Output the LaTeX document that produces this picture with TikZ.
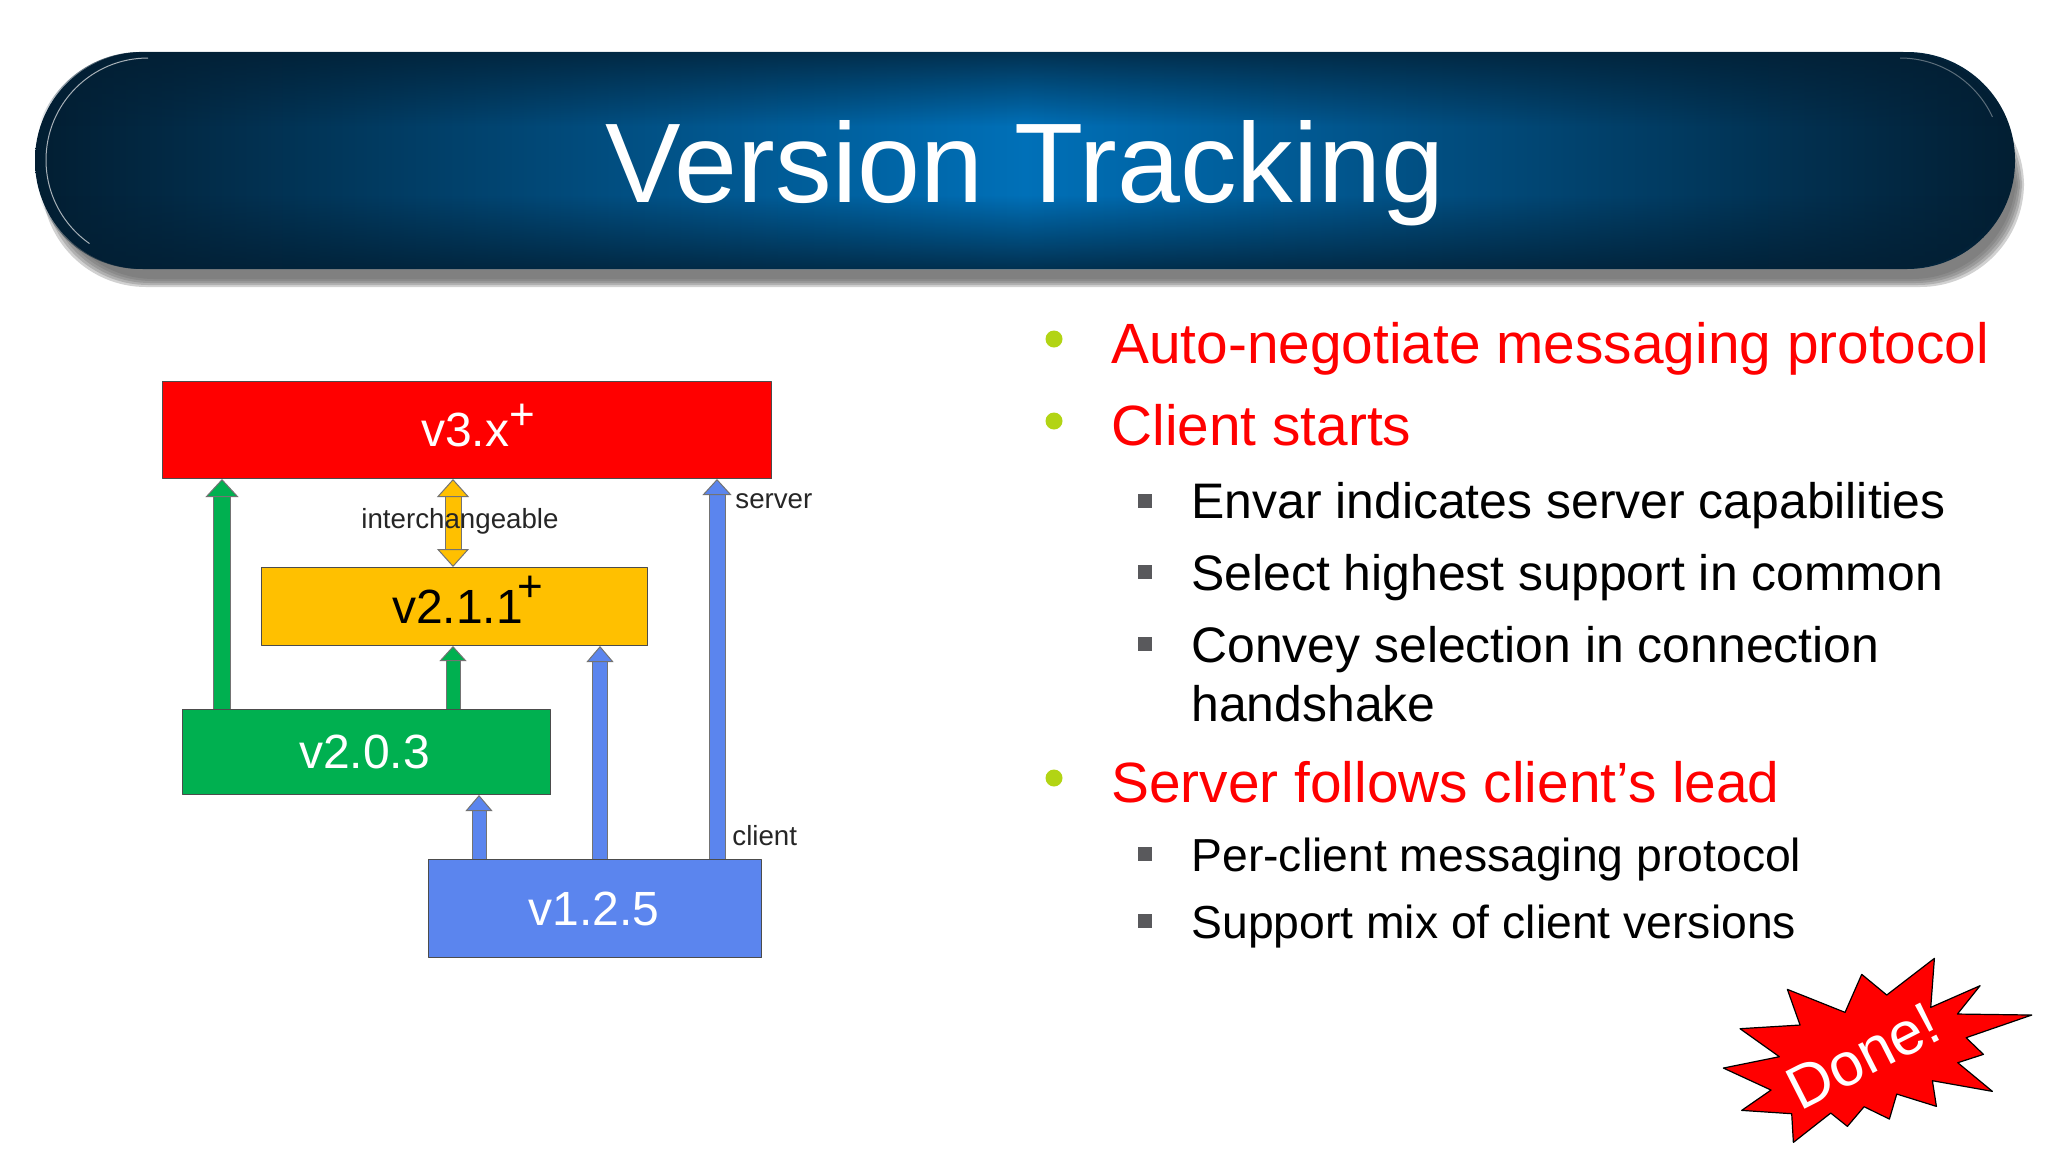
\documentclass[tikz,border=0pt]{standalone}
\usepackage{fontspec}
\setmainfont{Liberation Sans}
\usetikzlibrary{arrows.meta,fadings,calc}
\definecolor{vred}{RGB}{255,0,0}
\definecolor{vyellow}{RGB}{255,192,0}
\definecolor{vgreen}{RGB}{0,176,80}
\definecolor{vblue}{RGB}{91,133,238}
\definecolor{bandmid}{RGB}{0,112,184}
\definecolor{banddark}{RGB}{2,30,50}
\definecolor{bulletgreen}{RGB}{178,212,20}
\definecolor{bulletgray}{RGB}{89,89,92}
\pgfdeclareverticalshading{bandramp}{100bp}{color(0bp)=(white); color(20bp)=(white); color(42bp)=(black); color(58bp)=(black); color(80bp)=(white); color(100bp)=(white)}
\pgfdeclarefading{bandfade}{\pgfuseshading{bandramp}}
\newcommand{\plustag}[1]{\smash{\raisebox{#1}{\fontsize{22}{22}\selectfont +}}}
\tikzset{
  vbox/.style={draw=black!70,line width=.5pt,anchor=north west,inner sep=0pt,font=\fontsize{24}{24}\selectfont},
  blockarrow/.style n args={4}{draw=black!55,line width=.5pt,double=#1,double distance=#2,
    -{Triangle[length=#4,width=#3,fill=#1,line width=.5pt]}},
  swaparrow/.style={draw=black!55,line width=.5pt,double=vyellow,double distance=7.5pt,
    {Triangle[length=9pt,width=16pt,fill=vyellow,line width=.5pt]}-{Triangle[length=9pt,width=16pt,fill=vyellow,line width=.5pt]}},
  tag/.style={font=\fontsize{13.85}{13.85}\selectfont,inner sep=0pt,text=black!85},
  lineone/.style={anchor=base west,inner sep=0pt,text=red,font=\fontsize{28.4}{28.4}\selectfont},
  linetwo/.style={anchor=base west,inner sep=0pt,font=\fontsize{24.95}{24.95}\selectfont},
  linethree/.style={anchor=base west,inner sep=0pt,font=\fontsize{23.15}{23.15}\selectfont},
  dotone/.style={circle,fill=bulletgreen,minimum size=8.5pt,inner sep=0pt},
  dottwo/.style={rectangle,fill=bulletgray,minimum size=7pt,inner sep=0pt},
}
\begin{document}
\begin{tikzpicture}[x=.5pt,y=-.5pt,line join=round]
\useasboundingbox (0,0) rectangle (2048,1152);
% banner
\foreach \g in {8,6,4,2,0}
  \fill[black!60,opacity=.3,rounded corners=52pt] (50-\g,90-\g) rectangle (2016+\g,279+\g);
\shade[left color=banddark,right color=banddark,middle color=bandmid,rounded corners=54pt] (35,52) rectangle (2015,269);
\fill[banddark,path fading=bandfade,rounded corners=54pt] (35,52) rectangle (2015,269);
\draw[white!65!banddark,line width=.5pt] (148,58) arc[start angle=270,end angle=125,radius=102];
\draw[white!35!banddark,line width=.5pt] (1900,58) arc[start angle=-90,end angle=-25,radius=102];
\node[text=white,inner sep=0pt,anchor=base,font=\fontsize{56.6}{56.6}\selectfont] (title) at (1025,202) {Version Tracking};
% version boxes
\node[vbox,fill=vred,text=white,minimum width=304.5pt,minimum height=48.5pt] (v3x) at (162,381)
  {\hspace*{11pt}v3.x\plustag{8.5pt}};
\node[vbox,fill=vyellow,minimum width=193pt,minimum height=39pt] (v211) at (261,567)
  {\hspace*{13pt}v2.1.1\kern-3pt\plustag{11pt}};
\node[vbox,fill=vgreen,text=white,minimum width=184pt,minimum height=42.5pt] (v203) at (182,709) {v2.0.3\hspace*{2pt}};
\node[vbox,fill=vblue,text=white,minimum width=166.5pt,minimum height=49pt] (v125) at (428,859) {v1.2.5\hspace*{1.3pt}};
% arrows between boxes
\coordinate (xa) at (222,0);
\coordinate (xb) at (453,0);
\coordinate (xc) at (479,0);
\coordinate (xd) at (600,0);
\coordinate (xe) at (717,0);
\draw[blockarrow={vgreen}{8pt}{16.5pt}{9pt}] (v203.north -| xa) -- (v3x.south -| xa);
\draw[swaparrow] (v211.north -| xb) -- (v3x.south -| xb);
\draw[blockarrow={vgreen}{6.5pt}{13.5pt}{7.5pt}] (v203.north -| xb) -- (v211.south -| xb);
\draw[blockarrow={vblue}{6.5pt}{13.5pt}{8pt}] (v125.north -| xc) -- (v203.south -| xc);
\draw[blockarrow={vblue}{7pt}{13.5pt}{8pt}] (v125.north -| xd) -- (v211.south -| xd);
\draw[blockarrow={vblue}{7.5pt}{14.5pt}{8pt}] (v125.north -| xe) -- (v3x.south -| xe);
\node[tag] (swaptag) at (460,521) {interchangeable};
\node[tag,anchor=west] (servertag) at (735,501) {server};
\node[tag,anchor=west] (clienttag) at (732,836) {client};
% bullet list
\node[dotone] (d1) at (1054,339) {};
\node[lineone] (l1) at (1111,363) {Auto-negotiate messaging protocol};
\node[dotone] (d2) at (1054,421) {};
\node[lineone] (l2) at (1111,445) {Client starts};
\node[dottwo] (s1) at (1145,501) {};
\node[linetwo] (m1) at (1191,518) {Envar indicates server capabilities};
\node[dottwo] (s2) at (1145,572) {};
\node[linetwo] (m2) at (1191,590) {Select highest support in common};
\node[dottwo] (s3) at (1145,644) {};
\node[linetwo] (m3) at (1191,662) {Convey selection in connection};
\node[linetwo] (m3b) at (1191,721) {handshake};
\node[dotone] (d3) at (1054,778) {};
\node[lineone] (l3) at (1111,802) {Server follows client’s lead};
\node[dottwo] (s4) at (1145,854) {};
\node[linethree] (m4) at (1191,871) {Per-client messaging protocol};
\node[dottwo] (s5) at (1145,921) {};
\node[linethree] (m5) at (1191,938) {Support mix of client versions};
% burst
\draw[fill=vred,draw=black,line width=.6pt,xshift=840pt,yshift=-465pt,x=.1667pt,y=-.1667pt]
  (763,85)--(752,232)--(900,167)--(832,252)--(1055,255)--(858,323)--(910,373)--(833,398)
  --(937,484)--(757,452)--(769,529)--(650,492)--(628,567)--(552,530)--(502,589)--(452,549)
  --(340,637)--(335,551)--(185,541)--(273,480)--(130,414)--(298,380)--(180,296)--(360,285)
  --(322,178)--(495,247)--(545,133)--(620,195)--cycle;
\node[text=white,inner sep=0pt,rotate=27,font=\fontsize{30.4}{30.4}\selectfont] (done) at (1863,1056) {Done!};
\end{tikzpicture}
\end{document}
